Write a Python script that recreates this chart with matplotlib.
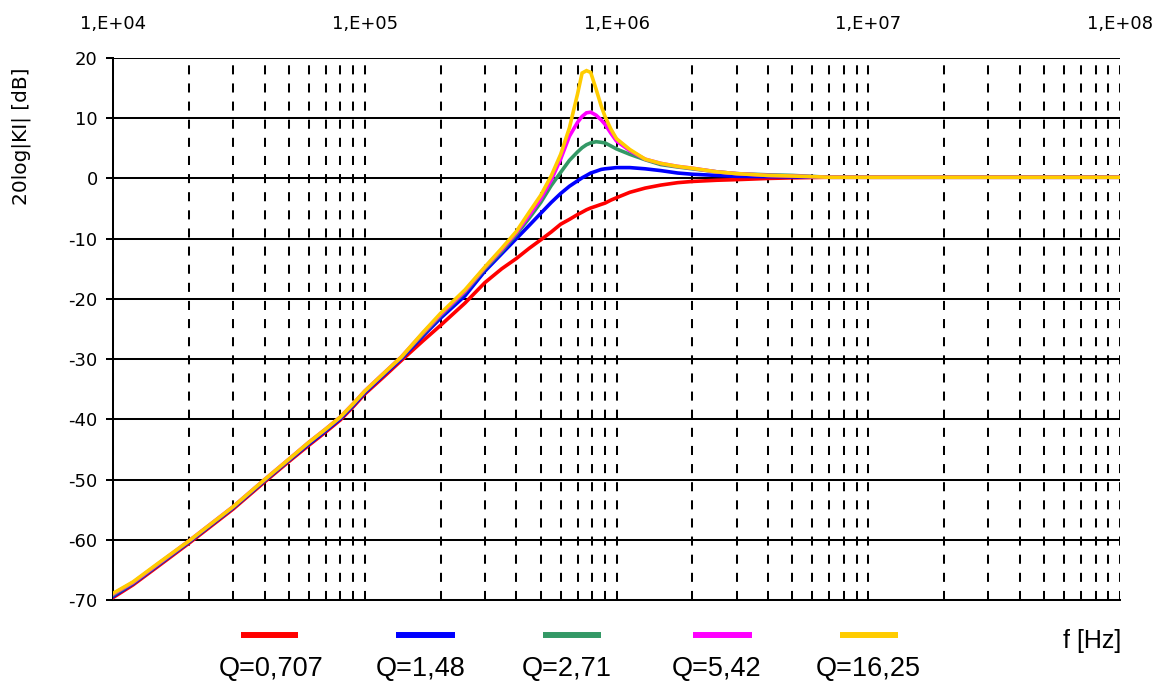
import matplotlib
matplotlib.use("Agg")
import matplotlib.pyplot as plt
from matplotlib.lines import Line2D
from matplotlib.ticker import FixedLocator, FuncFormatter, LogLocator, NullFormatter

# Frequency points (Hz) shared by all curves
freq_hz = [1e4, 1.2e4, 1.5e4, 2e4, 3e4, 4e4, 5e4, 6e4, 7e4, 8e4, 9e4,
           1e5, 1.2e5, 1.4e5, 1.7e5, 2e5, 2.5e5, 3e5, 3.5e5, 4e5, 4.5e5,
           5e5, 5.5e5, 6e5, 6.5e5, 7e5, 7.3e5, 7.6e5, 7.9e5, 8.3e5, 8.7e5,
           9e5, 9.5e5, 1e6, 1.13e6, 1.3e6, 1.5e6, 1.75e6, 2e6, 2.5e6, 3e6,
           4e6, 5e6, 7e6, 1e7, 1e8]

# Gain 20log|KI| in dB for each quality factor
gain_q0707 = [-69.6, -67.5, -64.5, -60.6, -54.9, -50.4, -47.0, -44.3, -42.1, -40.1, -37.9,
              -35.8, -32.8, -30.2, -27.0, -24.4, -20.7, -17.3, -15.0, -13.3, -11.6,
              -10.2, -8.9, -7.6, -6.8, -6.0, -5.6, -5.2, -4.9, -4.6, -4.3,
              -4.1, -3.6, -3.2, -2.3, -1.6, -1.1, -0.7, -0.5, -0.3, -0.2,
              0.0, 0.1, 0.2, 0.2, 0.2]
gain_q148 = [-69.4, -67.3, -64.3, -60.4, -54.7, -50.2, -46.8, -44.1, -41.9, -39.9, -37.7,
             -35.6, -32.5, -29.9, -26.2, -23.2, -19.5, -15.4, -12.5, -10.0, -7.8,
             -5.8, -4.0, -2.5, -1.3, -0.4, 0.1, 0.5, 0.9, 1.2, 1.5,
             1.6, 1.7, 1.8, 1.8, 1.6, 1.3, 0.9, 0.7, 0.5, 0.35,
             0.3, 0.25, 0.2, 0.2, 0.2]
gain_q271 = [-69.2, -67.2, -64.2, -60.3, -54.6, -50.1, -46.7, -43.9, -41.7, -39.7, -37.5,
             -35.4, -32.3, -29.7, -25.9, -22.8, -18.9, -15.0, -12.1, -9.3, -6.6,
             -4.0, -1.2, 1.0, 3.0, 4.4, 5.1, 5.6, 5.9, 6.1, 6.0,
             5.9, 5.4, 4.9, 4.0, 3.1, 2.3, 1.9, 1.6, 1.1, 0.8,
             0.6, 0.5, 0.2, 0.2, 0.2]
gain_q542 = [-69.0, -67.1, -64.1, -60.2, -54.5, -50.0, -46.6, -43.8, -41.6, -39.6, -37.4,
             -35.3, -32.2, -29.6, -25.7, -22.6, -18.7, -14.8, -11.8, -9.0, -6.1,
             -3.4, -0.3, 3.2, 7.0, 9.3, 10.3, 10.9, 11.0, 10.5, 9.7,
             9.0, 7.5, 6.2, 4.6, 3.2, 2.5, 2.0, 1.7, 1.1, 0.8,
             0.5, 0.4, 0.2, 0.2, 0.2]
gain_q1625 = [-68.9, -67.0, -64.0, -60.2, -54.5, -50.0, -46.6, -43.8, -41.6, -39.6, -37.4,
              -35.3, -32.2, -29.6, -25.6, -22.4, -18.5, -14.7, -11.6, -8.8, -5.6,
              -2.8, 0.4, 4.0, 8.4, 14.0, 17.5, 17.9, 17.6, 14.8, 12.0,
              10.3, 8.2, 6.6, 4.8, 3.2, 2.5, 2.0, 1.7, 1.1, 0.8,
              0.5, 0.4, 0.2, 0.2, 0.2]

series = [gain_q0707, gain_q148, gain_q271, gain_q542, gain_q1625]
q_labels = ["Q=0,707", "Q=1,48", "Q=2,71", "Q=5,42", "Q=16,25"]
q_colors = ["#FF0000", "#0000FF", "#339966", "#FF00FF", "#FFCC00"]

y_ticks = [-70, -60, -50, -40, -30, -20, -10, 0, 10, 20]
decade_ticks = [1e4, 1e5, 1e6, 1e7, 1e8]
decade_labels = ["1,E+04", "1,E+05", "1,E+06", "1,E+07", "1,E+08"]

plt.rcParams["font.family"] = ["DejaVu Sans"]
plt.rcParams["axes.unicode_minus"] = False

W, H = 1153, 689
fig = plt.figure(figsize=(W / 100, H / 100), dpi=100)
ax = fig.add_axes([113 / W, 1 - 600 / H, (1120 - 113) / W, (600 - 58) / H])

for gains, color in zip(series, q_colors):
    ax.plot(freq_hz, gains, color=color, lw=2.6, solid_joinstyle="miter", zorder=3)

ax.set_xscale("log")
ax.set_xlim(decade_ticks[0], decade_ticks[-1])
ax.set_ylim(y_ticks[0], y_ticks[-1])

ax.xaxis.set_major_locator(FixedLocator(decade_ticks))
ax.xaxis.set_major_formatter(FuncFormatter(
    lambda v, p: decade_labels[decade_ticks.index(v)] if v in decade_ticks else ""))
ax.xaxis.set_minor_locator(LogLocator(base=10, subs=range(2, 10)))
ax.xaxis.set_minor_formatter(NullFormatter())
ax.xaxis.tick_top()
ax.tick_params(axis="x", which="both", length=0, labelsize=13, pad=18)

ax.set_yticks(y_ticks)
ax.tick_params(axis="y", which="major", length=5, width=1.45, color="black",
               labelsize=13, pad=6, direction="out")

dash = (0, (4.5, 4.5))
ax.grid(axis="x", which="both", color="black", lw=1.45, ls=dash, zorder=1)
ax.grid(axis="y", which="major", color="black", lw=1.45, ls="-", zorder=1)
ax.set_axisbelow(True)

for side in ("top", "right"):
    ax.spines[side].set_visible(False)
for side in ("left", "bottom"):
    ax.spines[side].set_linewidth(1.45)
    ax.spines[side].set_color("black")

fig.text(21 / W, 1 - 136 / H, "20log|KI| [dB]", rotation=90, ha="center",
         va="center", fontsize=14.5)

# Legend: colour bar above each label
legend_lines = [(241, 298), (396, 455), (543, 601), (693, 752), (840, 898)]
label_centers = [271, 421, 567, 717, 868]
for (x0, x1), xc, color, text in zip(legend_lines, label_centers, q_colors, q_labels):
    fig.add_artist(Line2D([x0 / W, x1 / W], [1 - 635 / H, 1 - 635 / H],
                          transform=fig.transFigure, color=color, lw=4.3,
                          solid_capstyle="butt"))
    fig.text(xc / W, 1 - 669 / H, text, ha="center", va="center", fontsize=19.5,
             family=["Liberation Sans", "DejaVu Sans"])

fig.text(1092 / W, 1 - 641 / H, "f [Hz]", ha="center", va="center", fontsize=18,
         family=["Liberation Sans", "DejaVu Sans"])

fig.savefig("out.png", dpi=100)
